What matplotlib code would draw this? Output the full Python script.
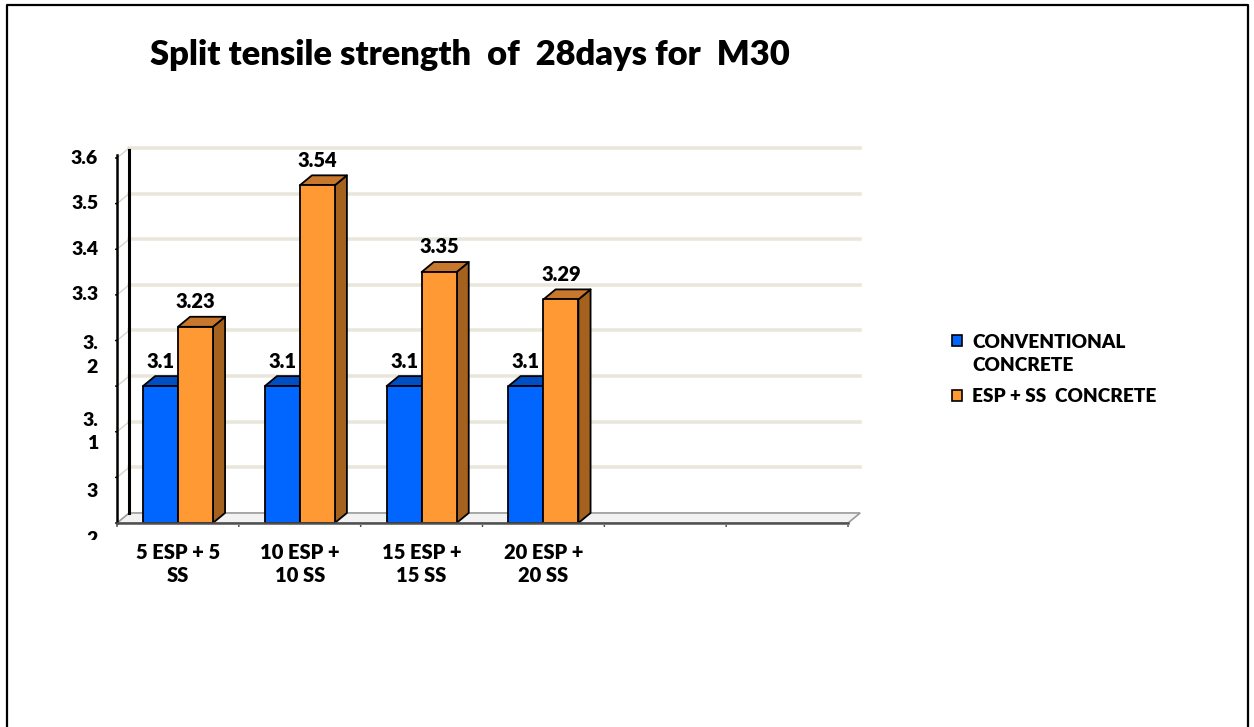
import matplotlib
matplotlib.use("Agg")
import matplotlib.pyplot as plt
from matplotlib.patches import Polygon, Rectangle
from matplotlib.lines import Line2D
from matplotlib.transforms import Bbox

plt.rcParams['font.family'] = ['Lato', 'DejaVu Sans']
plt.rcParams['font.weight'] = 'bold'

# ---------- data ----------
categories = ["5 ESP + 5\nSS", "10 ESP +\n10 SS", "15 ESP +\n15 SS", "20 ESP +\n20 SS", "", ""]
conventional = [3.1, 3.1, 3.1, 3.1]
esp_ss = [3.23, 3.54, 3.35, 3.29]
conv_labels = ["3.1", "3.1", "3.1", "3.1"]
esp_labels = ["3.23", "3.54", "3.35", "3.29"]
series_names = ["CONVENTIONAL\nCONCRETE", "ESP + SS  CONCRETE"]
y_ticks = [2.8, 2.9, 3.0, 3.1, 3.2, 3.3, 3.4, 3.5, 3.6]
# tick labels as they appear (Excel wrapped some of them)
y_label_text = ["3.6", "3.5", "3.4", "3.3", "3.\n2", "3.\n1", "3", "2"]
y_label_pos = [3.6, 3.5, 3.4, 3.3, 3.167, 3.0, 2.868, 2.763]

ymin, ymax = 2.8, 3.6
ncat = len(categories)

# colours
BLUE_F, BLUE_T, BLUE_S = "#0066ff", "#004ec4", "#0040a0"
ORG_F, ORG_T, ORG_S = "#ff9933", "#c8782d", "#a5621f"
GRID = "#e9e7dc"

W, H = 1254, 727
fig = plt.figure(figsize=(W / 100, H / 100), dpi=100)
ax = fig.add_axes([117 / W, (H - 523) / H, 731 / W, 365 / H])
ax.set_xlim(0, ncat)
ax.set_ylim(ymin, ymax)
ax.axis("off")

dx, dy = 0.1, 0.022     # depth of the 3-D effect
bw = 0.287              # bar width (category units)

# back grid lines + diagonals
for v in y_ticks[1:]:
    ax.plot([dx, ncat + dx], [v + dy, v + dy], color=GRID, lw=2.6, clip_on=False, zorder=1)
    ax.plot([0, dx], [v, v + dy], color="#d8d6cc", lw=1.0, clip_on=False, zorder=1)
# floor
ax.add_patch(Polygon([(0, ymin), (ncat, ymin), (ncat + dx, ymin + dy), (dx, ymin + dy)],
                     closed=True, fc="#f2f2f2", ec="#9a9a9a", lw=1.2, clip_on=False, zorder=1))
# back wall edge
ax.plot([dx, dx], [ymin + dy, 3.618], color="k", lw=2.2, clip_on=False, zorder=2)
# front axes
ax.plot([0, 0], [ymin, 3.607], color="k", lw=1.8, clip_on=False, zorder=6)
ax.plot([0, ncat], [ymin, ymin], color="#505050", lw=1.8, clip_on=False, zorder=6)
for v in y_ticks:
    ax.annotate("", xy=(0, v), xytext=(-4, 0), textcoords="offset pixels",
                xycoords="data", arrowprops=dict(arrowstyle="-", color="k", lw=1.2))
for i in range(ncat + 1):
    ax.annotate("", xy=(i, ymin), xytext=(0, -6), textcoords="offset pixels",
                xycoords="data", arrowprops=dict(arrowstyle="-", color="#404040", lw=1.2))


def bar3d(x0, v, fc, tc, sc):
    x1 = x0 + bw
    kw = dict(closed=True, ec="k", lw=1.3, clip_on=False, zorder=4, joinstyle="round")
    ax.add_patch(Polygon([(x1, ymin), (x1 + dx, ymin + dy), (x1 + dx, v + dy), (x1, v)], fc=sc, **kw))
    ax.add_patch(Polygon([(x0, v), (x1, v), (x1 + dx, v + dy), (x0 + dx, v + dy)], fc=tc, **kw))
    ax.add_patch(Polygon([(x0, ymin), (x1, ymin), (x1, v), (x0, v)], fc=fc, **kw))


for i, (c, e) in enumerate(zip(conventional, esp_ss)):
    xc = i + 0.5
    bar3d(xc - bw, c, BLUE_F, BLUE_T, BLUE_S)
    bar3d(xc, e, ORG_F, ORG_T, ORG_S)
    ax.text(xc - bw / 2, c + 0.055, conv_labels[i], ha="center", va="center",
            fontsize=14.5, fontweight="heavy", zorder=7)
    ax.text(xc + bw / 2, e + 0.055, esp_labels[i], ha="center", va="center",
            fontsize=14.5, fontweight="heavy", zorder=7)

# y tick labels
for t, p in zip(y_label_text, y_label_pos):
    txt = ax.text(-0.155, p, t, ha="right", va="center", fontsize=14, fontweight="heavy",
                  linespacing=1.45, clip_on=False)
    if p < ymin:
        txt.set_clip_on(True)
        txt.set_clip_box(Bbox([[0, H - 540], [W, H]]))

# x tick labels
for i, lab in enumerate(categories):
    if lab:
        ax.text(i + 0.5, ymin - 0.09, lab, ha="center", va="center", fontsize=14.5,
                fontweight="heavy", linespacing=1.3)

# title
fig.text(150 / W, 1 - 55 / H, "Split tensile strength  of  28days for  M30",
         ha="left", va="center", fontsize=24.8, fontweight="heavy")

# legend
fig.patches.append(Rectangle((952 / W, 1 - 346 / H), 10 / W, 11 / H, transform=fig.transFigure,
                             fc=BLUE_F, ec="k", lw=1.2))
fig.patches.append(Rectangle((952 / W, 1 - 401 / H), 10 / W, 11 / H, transform=fig.transFigure,
                             fc=ORG_F, ec="k", lw=1.2))
fig.text(972 / W, 1 - 354 / H, series_names[0], ha="left", va="center", fontsize=13.7,
         fontweight="heavy", linespacing=1.42)
fig.text(972 / W, 1 - 396 / H, series_names[1], ha="left", va="center", fontsize=13.7,
         fontweight="heavy")

# outer frame (bottom edge cut off)
fl, fr, ft = 7 / W, 1248 / W, 1 - 5 / H
fig.lines.append(Line2D([fl, fl, fr, fr], [0, ft, ft, 0], transform=fig.transFigure,
                        color="k", lw=1.6))

fig.savefig("out.png", dpi=100)
